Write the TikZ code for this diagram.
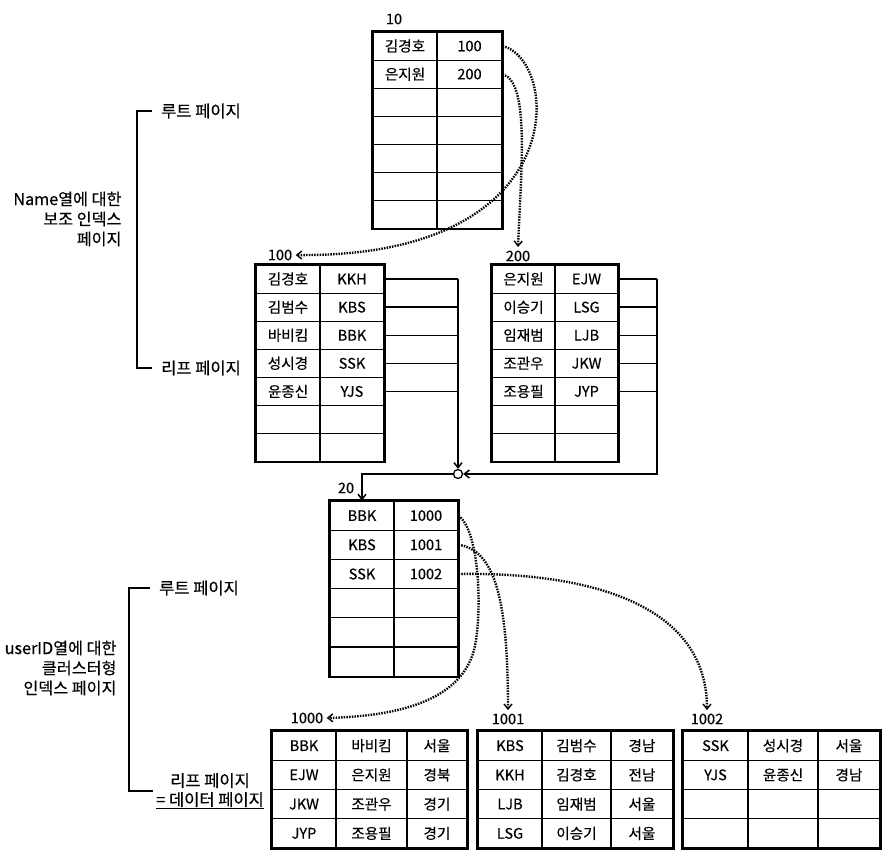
\documentclass[tikz,border=0pt]{standalone}
\usepackage{fontspec}
\setmainfont{Noto Sans CJK KR}[UprightFeatures={FakeBold=0.35}]
\usetikzlibrary{arrows.meta}

\def\rowh{28.1}
\def\idxh{29.2}
\def\datah{29.25}

\begin{document}
\begin{tikzpicture}[x=1pt,y=-1pt,>={Straight Barb[length=5pt,width=8pt]},font=\fontsize{14.6}{16}\selectfont]
\tikzstyle{cell}=[draw,line width=1.1pt,inner sep=0pt,minimum height=\rowh]
\tikzstyle{frame}=[line width=2pt]
\tikzstyle{link}=[line width=1.5pt]
\tikzstyle{pointer}=[line width=2.4pt,dash pattern=on 1.5pt off 1.2pt,-{Straight Barb[length=5pt,width=8pt,line width=1.4pt]}]
\tikzstyle{tag}=[anchor=west,inner xsep=9pt,font=\fontsize{16.5}{20}\selectfont]
\tikzstyle{annot}=[align=right,anchor=east,font=\fontsize{16.2}{20}\selectfont]

\useasboundingbox (0,0) rectangle (896,862);

% Draw the root page of the Name index
\foreach \y/\a/\b in {1/김경호/100,2/은지원/200,3/{}/{},4/{}/{},5/{}/{},6/{}/{},7/{}/{}}
  {\node[cell,minimum width=64] (R-\y-1) at (405,{32+\rowh*(\y-0.5)}) {\a};
   \node[cell,minimum width=65] (R-\y-2) at (469.5,{32+\rowh*(\y-0.5)}) {\b};}
\draw[frame] (R-1-1.north west) rectangle (R-7-2.south east);

% Draw the two leaf pages
\foreach \y/\a/\b in {1/김경호/KKH,2/김범수/KBS,3/바비킴/BBK,4/성시경/SSK,5/윤종신/YJS,6/{}/{},7/{}/{}}
  {\node[cell,minimum width=64] (A-\y-1) at (288,{265+\rowh*(\y-0.5)}) {\a};
   \node[cell,minimum width=64] (A-\y-2) at (352,{265+\rowh*(\y-0.5)}) {\b};}
\draw[frame] (A-1-1.north west) rectangle (A-7-2.south east);

\foreach \y/\a/\b in {1/은지원/EJW,2/이승기/LSG,3/임재범/LJB,4/조관우/JKW,5/조용필/JYP,6/{}/{},7/{}/{}}
  {\node[cell,minimum width=63] (B-\y-1) at (523.5,{265+\rowh*(\y-0.5)}) {\a};
   \node[cell,minimum width=63] (B-\y-2) at (586.5,{265+\rowh*(\y-0.5)}) {\b};}
\draw[frame] (B-1-1.north west) rectangle (B-7-2.south east);

% Draw the root page of the userID index
\foreach \y/\a/\b in {1/BBK/1000,2/KBS/1001,3/SSK/1002,4/{}/{},5/{}/{},6/{}/{}}
  {\node[cell,minimum width=64,minimum height=\idxh] (I-\y-1) at (362,{501+\idxh*(\y-0.5)}) {\a};
   \node[cell,minimum width=64,minimum height=\idxh] (I-\y-2) at (426,{501+\idxh*(\y-0.5)}) {\b};}
\draw[frame] (I-1-1.north west) rectangle (I-6-2.south east);

% Draw the data pages
\foreach \y/\a/\b/\c in {1/BBK/바비킴/서울,2/EJW/은지원/경북,3/JKW/조관우/경기,4/JYP/조용필/경기}
  {\node[cell,minimum width=64,minimum height=\datah] (D0-\y-1) at (304,{731+\datah*(\y-0.5)}) {\a};
   \node[cell,minimum width=71,minimum height=\datah] (D0-\y-2) at (371.5,{731+\datah*(\y-0.5)}) {\b};
   \node[cell,minimum width=60,minimum height=\datah] (D0-\y-3) at (437,{731+\datah*(\y-0.5)}) {\c};}
\draw[frame] (D0-1-1.north west) rectangle (D0-4-3.south east);

\foreach \y/\a/\b/\c in {1/KBS/김범수/경남,2/KKH/김경호/전남,3/LJB/임재범/서울,4/LSG/이승기/서울}
  {\node[cell,minimum width=64,minimum height=\datah] (D1-\y-1) at (510,{731+\datah*(\y-0.5)}) {\a};
   \node[cell,minimum width=69,minimum height=\datah] (D1-\y-2) at (576.5,{731+\datah*(\y-0.5)}) {\b};
   \node[cell,minimum width=62,minimum height=\datah] (D1-\y-3) at (642,{731+\datah*(\y-0.5)}) {\c};}
\draw[frame] (D1-1-1.north west) rectangle (D1-4-3.south east);

\foreach \y/\a/\b/\c in {1/SSK/성시경/서울,2/YJS/윤종신/경남,3/{}/{}/{},4/{}/{}/{}}
  {\node[cell,minimum width=65,minimum height=\datah] (D2-\y-1) at (715.5,{731+\datah*(\y-0.5)}) {\a};
   \node[cell,minimum width=70,minimum height=\datah] (D2-\y-2) at (783,{731+\datah*(\y-0.5)}) {\b};
   \node[cell,minimum width=62,minimum height=\datah] (D2-\y-3) at (849,{731+\datah*(\y-0.5)}) {\c};}
\draw[frame] (D2-1-1.north west) rectangle (D2-4-3.south east);

% Page numbers
\node (p10) at (394,19) {10};
\node (p100) at (280,255) {100};
\node (p200) at (518,256) {200};
\node (p20) at (346,488) {20};
\node (p1000) at (307,718) {1000};
\node (p1001) at (508,719) {1001};
\node (p1002) at (707,719) {1002};

% Leaf rows run into the root page of the userID index
\node[circle,draw,line width=1.3pt,inner sep=0pt,minimum size=9] (J) at (458,474) {};
\coordinate (busB) at (657,474);
\foreach \y in {1,...,5}
  \draw[link] (A-\y-2.east) -- (A-\y-2.east -| J);
\draw[link,->] (A-1-2.east -| J) -- (J.north);
\foreach \y in {1,...,5}
  \draw[link] (B-\y-2.east) -- (B-\y-2.east -| busB);
\draw[link,->] (B-1-2.east -| busB) -- (busB) -- (J.east);
\draw[link,->] (J.west) -| (I-1-1.north);

% Page pointers
\draw[pointer] (R-1-2.east) .. controls (560,60) and (575,258) .. (p100.east);
\draw[pointer] (R-2-2.east) .. controls (530,82) and (521,170) .. (p200.north);
\draw[pointer] (I-1-2.east) .. controls (478,530) and (482,600) .. (476,640) .. controls (468,700) and (400,716) .. (p1000.east);
\draw[pointer] (I-2-2.east) .. controls (495,550) and (508,600) .. (p1001.north);
\draw[pointer] (I-3-2.east) .. controls (580,572) and (707,600) .. (p1002.north);

% Annotate the Name index
\node[tag] (rootA) at (152,111) {루트 페이지};
\node[tag] (leafA) at (152,368) {리프 페이지};
\draw[link] (rootA.west) -- ++(-15,0) |- (leafA.west);
\node[annot] (nameA) at (125,219) {Name열에 대한\\보조 인덱스\\페이지};

% Annotate the userID index
\node[tag] (rootB) at (150,588) {루트 페이지};
\node[align=center,font=\fontsize{16.5}{19}\selectfont] (leafB) at (210,791) {리프 페이지\\\underline{= 데이터 페이지}};
\draw[link] (rootB.west) -- ++(-21,0) |- (leafB.west);
\node[annot] (nameB) at (120,668) {userID열에 대한\\클러스터형\\인덱스 페이지};
\end{tikzpicture}
\end{document}
